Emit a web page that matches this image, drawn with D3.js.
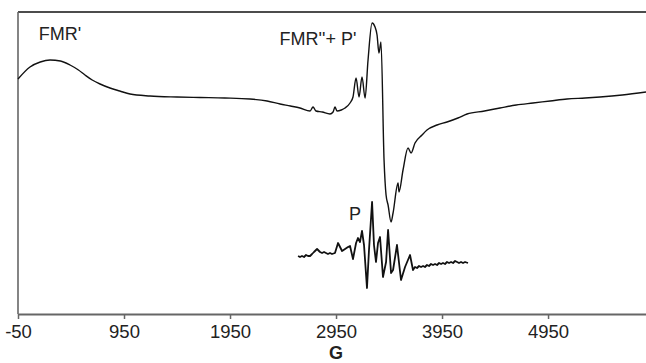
<!DOCTYPE html>
<html>
<head>
<meta charset="utf-8">
<script src="https://cdn.jsdelivr.net/npm/d3@7"></script>
<style>
  body { margin: 0; background: #fff; }
  text { font-family: "Liberation Sans", Arial, sans-serif; }
</style>
</head>
<body>
<div id="chart"></div>
<script>
// field (G) and signal (arb. units) of the full spectrum FMR'' + P'
var mainG = [-50, 63, 160, 252, 350, 441, 520, 582, 650, 724, 818, 910, 1007, 1195, 1450, 1667, 1900, 2139, 2300, 2422, 2520, 2610, 2705, 2733, 2761, 2820, 2893, 2922, 2940, 2959, 3000, 3035, 3082, 3110, 3139, 3167, 3195, 3224, 3252, 3290, 3318, 3337, 3355, 3374, 3403, 3422, 3441, 3469, 3488, 3535, 3544, 3582, 3629, 3658, 3695, 3761, 3808, 3903, 3997, 4100, 4186, 4350, 4497, 4650, 4808, 4970, 5129, 5300, 5440, 5650, 5874];
var mainY = [235, 247, 252, 254, 253, 249, 244, 239, 234, 230, 226, 223, 220, 218, 217, 216.5, 216, 215, 213, 210, 208, 206, 203, 207, 203, 202, 200, 202, 207, 203, 204, 206, 211, 217, 236, 217, 237, 216, 254, 291, 287, 279, 261, 272, 154, 119, 109, 92, 101, 131, 122, 144, 166, 161, 171, 179, 184, 189, 192, 196, 200, 203, 206, 209, 211, 213, 215, 216, 217, 219, 222];

// field (G) and signal (arb. units) of the isolated P spectrum (shifted down)
var pG = [2592, 2610, 2629, 2648, 2667, 2686, 2705, 2724, 2742, 2771, 2799, 2818, 2837, 2855, 2874, 2893, 2912, 2940, 2969, 3007, 3035, 3063, 3082, 3110, 3139, 3157, 3176, 3195, 3214, 3242, 3261, 3290, 3308, 3327, 3346, 3365, 3393, 3422, 3441, 3469, 3488, 3525, 3563, 3601, 3648, 3676, 3695, 3714, 3733, 3752, 3771, 3789, 3808, 3827, 3846, 3865, 3884, 3903, 3922, 3941, 3959, 3978, 3997, 4016, 4035, 4054, 4073, 4092, 4110, 4129, 4148, 4167, 4195];
var pY = [58, 57, 58, 57, 59, 58, 58, 60, 62, 65, 62, 61, 62, 61, 60, 61, 60, 61, 71, 63, 65, 67, 68, 55, 71, 76, 72, 83, 69, 26, 64, 112, 69, 52, 71, 77, 37, 52, 84, 41, 44, 69, 34, 47, 59, 44, 47, 46, 48, 47, 48, 47, 49, 48, 50, 49, 50, 49, 51, 50, 51, 50, 52, 51, 52, 51, 53, 52, 51, 52, 51, 52, 51];

var xTicks = [-50, 950, 1950, 2950, 3950, 4950];

var labels = [
  { text: "FMR'", g: 346, y: 274 },
  { text: "FMR''+ P'", g: 2780, y: 269 },
  { text: "P", g: 3129, y: 94 }
];

var W = 646, H = 363;
var mLeft = 18, mTop = 12, mRight = 646, mBottom = 314;

var svg = d3.select("#chart").append("svg")
    .attr("width", W)
    .attr("height", H);

var x = d3.scaleLinear().domain([-50, 5874]).range([mLeft, mRight]);
var y = d3.scaleLinear().domain([0, 302]).range([mBottom, mTop]);

// top frame line
svg.append("line")
    .attr("x1", mLeft).attr("x2", mRight)
    .attr("y1", mTop).attr("y2", mTop)
    .style("stroke", "#111")
    .style("stroke-width", 1.6);

// left axis line (no ticks)
svg.append("line")
    .attr("x1", mLeft).attr("x2", mLeft)
    .attr("y1", mTop).attr("y2", mBottom)
    .style("stroke", "#666")
    .style("stroke-width", 1.6);

// x axis
var xAxis = svg.append("g")
    .attr("transform", "translate(0," + mBottom + ")")
    .call(d3.axisBottom(x).tickValues(xTicks).tickSize(5).tickSizeOuter(0).tickPadding(6)
        .tickFormat(function(d) { return String(d); }));
xAxis.select(".domain").style("stroke", "#666").style("stroke-width", 2);
xAxis.selectAll(".tick line").style("stroke", "#666").style("stroke-width", 1.5);
xAxis.selectAll(".tick text")
    .style("font-size", "18.5px")
    .style("fill", "#222")
    .style("font-family", "'Liberation Sans', Arial, sans-serif");

svg.append("text")
    .attr("x", 336).attr("y", 359)
    .attr("text-anchor", "middle")
    .style("font-size", "18px")
    .style("font-weight", "bold")
    .style("fill", "#222")
    .text("G");

var smoothLine = d3.line()
    .curve(d3.curveMonotoneX)
    .x(function(d) { return x(d[0]); })
    .y(function(d) { return y(d[1]); });

var line = d3.line()
    .x(function(d) { return x(d[0]); })
    .y(function(d) { return y(d[1]); });

var mainData = mainG.map(function(g, i) { return [g, mainY[i]]; });
var pData = pG.map(function(g, i) { return [g, pY[i]]; });

svg.append("path")
    .datum(mainData)
    .attr("d", smoothLine)
    .style("fill", "none")
    .style("stroke", "#111")
    .style("stroke-width", 1.4)
    .style("stroke-linejoin", "round");

svg.append("path")
    .datum(pData)
    .attr("d", line)
    .style("fill", "none")
    .style("stroke", "#111")
    .style("stroke-width", 1.8)
    .style("stroke-linejoin", "round");

svg.selectAll("text.lbl")
    .data(labels)
    .enter()
    .append("text")
    .attr("class", "lbl")
    .attr("x", function(d) { return x(d.g); })
    .attr("y", function(d) { return y(d.y); })
    .attr("text-anchor", "middle")
    .style("font-size", "18px")
    .style("fill", "#222")
    .text(function(d) { return d.text; });
</script>
</body>
</html>
